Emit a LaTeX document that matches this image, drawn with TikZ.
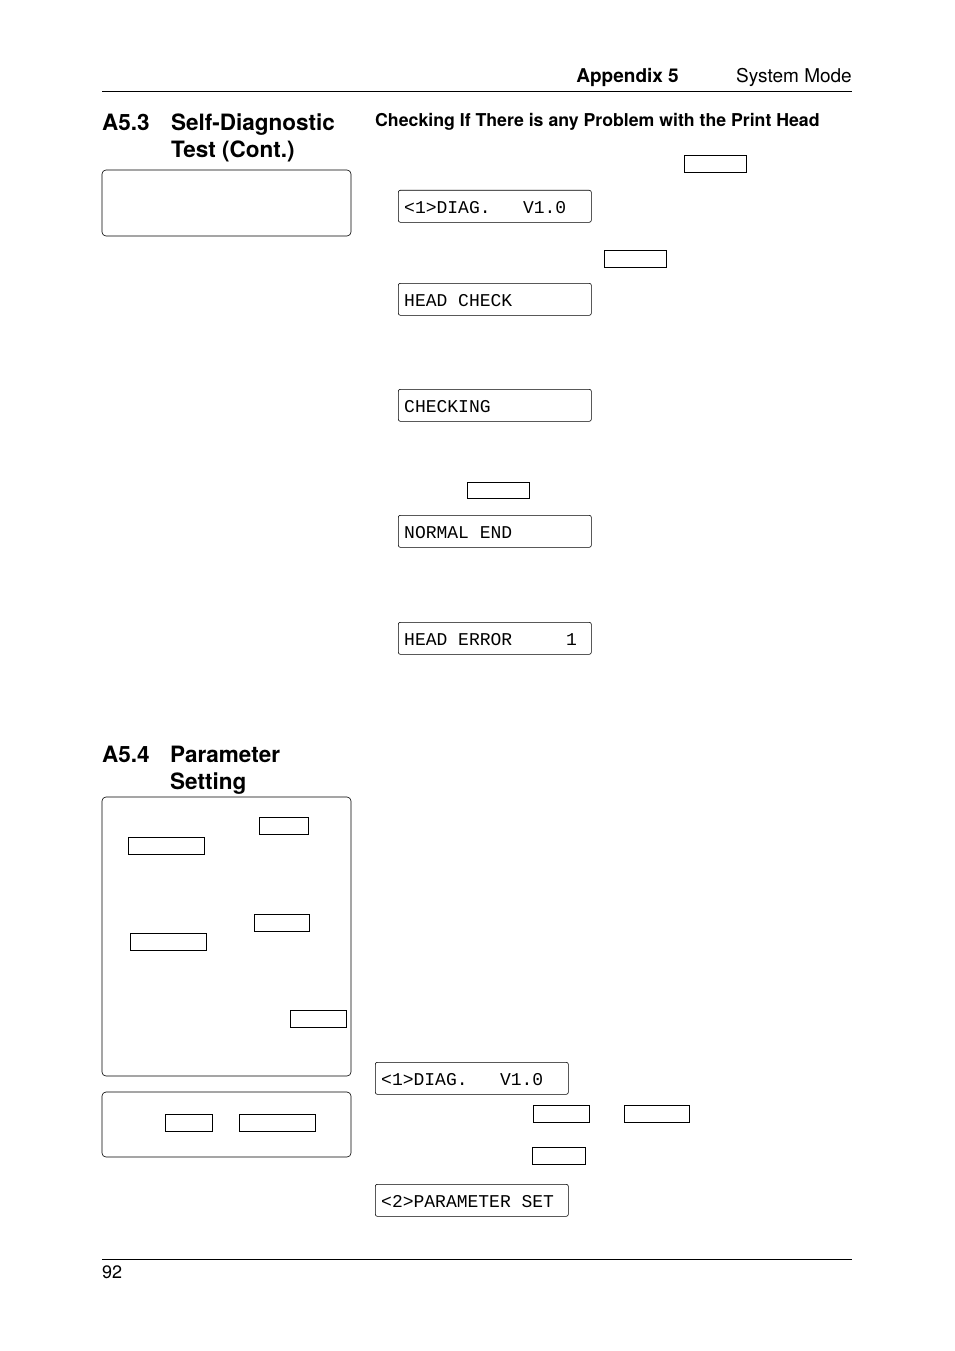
\documentclass[tikz,border=0pt]{standalone}
\usepackage{fontspec}
\setmainfont{TeX Gyre Heros}
\newfontfamily\lcdfont{Liberation Mono}
\tikzset{
  lcd/.style={draw, rounded corners=2pt, line width=0.6pt, minimum width=193pt,
              minimum height=32pt, anchor=north west, inner sep=0pt},
  lcdtext/.style={anchor=base west, inner sep=0pt, font=\lcdfont\fontsize{18}{18}\selectfont},
  key/.style={draw, line width=0.6pt},
  panel/.style={draw, rounded corners=4pt, line width=0.6pt},
  head/.style={anchor=base west, inner sep=0pt, font=\bfseries\fontsize{22.5}{22.5}\selectfont}
}
\begin{document}
\begin{tikzpicture}[x=1pt, y=-1pt]
\useasboundingbox (0,0) rectangle (954,1351);
% header
\node[anchor=base east, inner sep=0pt, font=\bfseries\fontsize{19}{19}\selectfont] (apx) at (679,83) {Appendix 5};
\node[anchor=base east, inner sep=0pt, font=\fontsize{19}{19}\selectfont] (sys) at (852,83) {System Mode};
\draw[line width=0.6pt] (102,91) -- (852,91);
% A5.3
\node[head] (s53) at (102,131) {A5.3};
\node[head] (t53a) at (171,131) {Self-Diagnostic};
\node[head] (t53b) at (171,158) {Test (Cont.)};
\draw[panel] (102,170) rectangle (351,236);
\node[anchor=base west, inner sep=0pt, font=\bfseries\fontsize{17.7}{17.7}\selectfont] (chk) at (375,127)
  {Checking If There is any Problem with the Print Head};
\draw[key] (684,155) rectangle (746,172);
\node[lcd] (d1) at (398,190) {};
\node[lcdtext] at ([xshift=6pt,yshift=9pt]d1.south west) {<1>DIAG.~~~V1.0};
\draw[key] (604,250) rectangle (666,267);
\node[lcd] (d2) at (398,283) {};
\node[lcdtext] at ([xshift=6pt,yshift=9pt]d2.south west) {HEAD CHECK};
\node[lcd] (d3) at (398,389) {};
\node[lcdtext] at ([xshift=6pt,yshift=9pt]d3.south west) {CHECKING};
\draw[key] (467,482) rectangle (529,498);
\node[lcd] (d4) at (398,515) {};
\node[lcdtext] at ([xshift=6pt,yshift=9pt]d4.south west) {NORMAL END};
\node[lcd] (d5) at (398,622) {};
\node[lcdtext] at ([xshift=6pt,yshift=9pt]d5.south west) {HEAD ERROR~~~~~1};
% A5.4
\node[head] (s54) at (102,762) {A5.4};
\node[head] (t54a) at (170,762) {Parameter};
\node[head] (t54b) at (170,789) {Setting};
\draw[panel] (102,797) rectangle (351,1076);
\draw[key] (259,817) rectangle (308,834);
\draw[key] (128,837) rectangle (204,854);
\draw[key] (254,914) rectangle (309,931);
\draw[key] (130,933) rectangle (206,950);
\draw[key] (290,1010) rectangle (346,1027);
\draw[panel] (102,1092) rectangle (351,1157);
\draw[key] (165,1114) rectangle (212,1131);
\draw[key] (239,1114) rectangle (315,1131);
\node[lcd] (d6) at (375,1062) {};
\node[lcdtext] at ([xshift=6pt,yshift=9pt]d6.south west) {<1>DIAG.~~~V1.0};
\draw[key] (533,1105) rectangle (589,1122);
\draw[key] (624,1105) rectangle (689,1122);
\draw[key] (532,1147) rectangle (585,1164);
\node[lcd] (d7) at (375,1184) {};
\node[lcdtext] at ([xshift=6pt,yshift=9pt]d7.south west) {<2>PARAMETER SET};
% footer
\draw[line width=0.6pt] (102,1259) -- (852,1259);
\node[anchor=base west, inner sep=0pt, font=\fontsize{18}{18}\selectfont] (pg) at (102,1278) {92};
\end{tikzpicture}
\end{document}
